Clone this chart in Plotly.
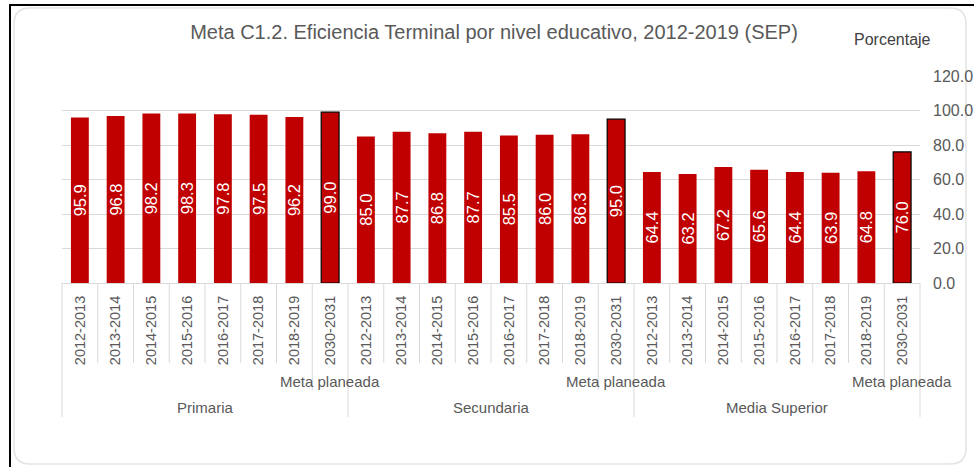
import plotly.graph_objects as go

groups = ["Primaria", "Secundaria", "Media Superior"]
years = ["2012-2013", "2013-2014", "2014-2015", "2015-2016", "2016-2017",
         "2017-2018", "2018-2019", "2030-2031"]
meta_label = "Meta planeada"
primaria = [95.9, 96.8, 98.2, 98.3, 97.8, 97.5, 96.2, 99.0]
secundaria = [85.0, 87.7, 86.8, 87.7, 85.5, 86.0, 86.3, 95.0]
media_superior = [64.4, 63.2, 67.2, 65.6, 64.4, 63.9, 64.8, 76.0]
values_by_group = [primaria, secundaria, media_superior]
y_ticks = [0, 20, 40, 60, 80, 100, 120]

W, H = 974, 467
L, R, T, B = 62, 920, 76, 283  # plot area pixel box


def px(xpix):
    return (xpix - L) / (R - L)


def py(ypix):
    return (B - ypix) / (B - T)


cats, vals, ticktext, line_colors, line_widths = [], [], [], [], []
for g, gv in zip(groups, values_by_group):
    for yr, v in zip(years, gv):
        cats.append(f"{g}|{yr}")
        vals.append(v)
        ticktext.append(yr)
        is_meta = yr == years[-1]
        line_colors.append("#000000" if is_meta else "#C00000")
        line_widths.append(1.2 if is_meta else 0)

n = len(cats)
grey = "#595959"
divc = "#d9d9d9"
font_family = "Liberation Sans, Arial, sans-serif"

fig = go.Figure(go.Bar(
    x=cats, y=vals,
    marker=dict(color="#C00000", line=dict(color=line_colors, width=line_widths)),
    texttemplate="%{y:.1f}", textposition="inside", insidetextanchor="middle",
    textangle=-90, constraintext="none",
    textfont=dict(color="white", size=16.5, family=font_family),
    hoverinfo="x+y",
))


def cat_to_paper(pos):
    return (pos + 0.5) / n


shapes = []
# year cell dividers
for k in range(n + 1):
    pos = k - 0.5
    idx_in_group = k % len(years)
    if idx_in_group == 0:
        y1 = py(417)
    elif idx_in_group == len(years) - 1:
        y1 = py(390)
    else:
        y1 = py(363)
    shapes.append(dict(type="line", xref="paper", yref="paper",
                       x0=cat_to_paper(pos), x1=cat_to_paper(pos), y0=0, y1=y1,
                       line=dict(color=divc, width=1)))

# outer frame decorations
shapes.append(dict(type="line", xref="paper", yref="paper",
                   x0=px(10), x1=px(10), y0=py(5), y1=py(470),
                   line=dict(color="#000000", width=2)))
shapes.append(dict(type="line", xref="paper", yref="paper",
                   x0=px(9), x1=px(980), y0=py(5), y1=py(5),
                   line=dict(color="#000000", width=2)))
r = 16
x0p, x1p, y0p, y1p = 14, 966, 8, 464
path = (f"M {px(x0p)},{py(y0p + r)} Q {px(x0p)},{py(y0p)} {px(x0p + r)},{py(y0p)} "
        f"L {px(x1p - r)},{py(y0p)} Q {px(x1p)},{py(y0p)} {px(x1p)},{py(y0p + r)} "
        f"L {px(x1p)},{py(y1p - r)} Q {px(x1p)},{py(y1p)} {px(x1p - r)},{py(y1p)} "
        f"L {px(x0p + r)},{py(y1p)} Q {px(x0p)},{py(y1p)} {px(x0p)},{py(y1p - r)} Z")
shapes.append(dict(type="path", xref="paper", yref="paper", path=path,
                   line=dict(color="#e3e3e3", width=1.5), layer="below"))

annotations = []
for gi, g in enumerate(groups):
    start = gi * len(years)
    annotations.append(dict(x=cat_to_paper(start + (len(years) - 1) / 2), y=py(407),
                            xref="paper", yref="paper", text=g, showarrow=False,
                            xanchor="center", yanchor="middle",
                            font=dict(size=15, color=grey, family=font_family)))
    annotations.append(dict(x=cat_to_paper(start + len(years) - 1), y=py(381),
                            xref="paper", yref="paper", text=meta_label, showarrow=False,
                            xanchor="center", yanchor="middle",
                            font=dict(size=15, color=grey, family=font_family)))
annotations.append(dict(x=px(892), y=py(40), xref="paper", yref="paper",
                        text="Porcentaje", showarrow=False, xanchor="center",
                        yanchor="middle", font=dict(size=16, color="#404040", family=font_family)))

fig.update_layout(
    width=W, height=H,
    margin=dict(l=L, r=W - R, t=T, b=H - B, autoexpand=False),
    paper_bgcolor="white", plot_bgcolor="white",
    bargap=0.5,
    showlegend=False,
    uniformtext=dict(minsize=16, mode="show"),
    title=dict(text="Meta C1.2. Eficiencia Terminal por nivel educativo, 2012-2019 (SEP)",
               x=494 / W, xanchor="center", y=1 - 32 / H, yanchor="middle",
               font=dict(size=20, color=grey, family=font_family)),
    xaxis=dict(type="category", tickmode="array", tickvals=cats, ticktext=ticktext,
               tickangle=-90, ticks="", showgrid=False, showline=True,
               linecolor=divc, linewidth=1, ticklabelstandoff=6, automargin=False,
               tickfont=dict(size=14.5, color=grey, family=font_family),
               range=[-0.5, n - 0.5], fixedrange=True),
    yaxis=dict(side="right", range=[0, 120], tickvals=y_ticks, tickformat=".1f",
               showgrid=True, gridcolor=divc, gridwidth=1, zeroline=False,
               showline=False, ticks="", ticklabelstandoff=12, automargin=False,
               tickfont=dict(size=16, color=grey, family=font_family)),
    shapes=shapes,
    annotations=annotations,
    font=dict(family=font_family),
)

fig.write_html("out.html", config={"displayModeBar": False},
               post_script="document.body.style.margin='0';")
